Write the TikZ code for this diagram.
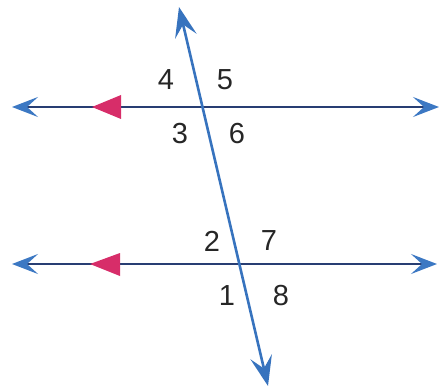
\documentclass[tikz,border=0pt]{standalone}
\usepackage{fontspec}
\setmainfont{Liberation Sans}
\usetikzlibrary{arrows.meta}
\definecolor{lineblue}{RGB}{40,62,115}
\definecolor{tipblue}{RGB}{60,120,195}
\definecolor{transblue}{RGB}{55,115,190}
\definecolor{markpink}{RGB}{215,45,105}
\tikzset{
  htip/.tip={Stealth[length=26pt,width=20pt,inset=11pt,color=tipblue]},
  ttip/.tip={Stealth[length=30pt,width=22pt,inset=12pt]},
  hline/.style={draw=lineblue, line width=2.4pt, htip-htip},
  tline/.style={draw=transblue, line width=2.6pt, ttip-ttip},
  parmark/.style={fill=markpink},
  lab/.style={font=\fontsize{29}{33}\selectfont, inner sep=0pt, text=black!85}
}
\begin{document}
\begin{tikzpicture}[x=1pt,y=-1pt]
\useasboundingbox (0,0) rectangle (444,390);
\coordinate (aL) at (12,107);
\coordinate (aR) at (439,107);
\coordinate (bL) at (12,264);
\coordinate (bR) at (437,264);
\coordinate (tT) at (179,7);
\coordinate (tB) at (268,386);
\draw[hline] (aL) -- (aR);
\draw[hline] (bL) -- (bR);
\draw[tline] (tB) -- (tT);
\fill[parmark] (92,107) -- (121,95) -- (121,119) -- cycle;
\fill[parmark] (90,264) -- (120,253) -- (120,276) -- cycle;
\node[lab] (n4) at (166,80) {4};
\node[lab] (n5) at (225,80) {5};
\node[lab] (n3) at (180,134) {3};
\node[lab] (n6) at (237,134) {6};
\node[lab] (n2) at (212,241) {2};
\node[lab] (n7) at (269,241) {7};
\node[lab] (n1) at (227,296) {1};
\node[lab] (n8) at (281,296) {8};
\end{tikzpicture}
\end{document}
